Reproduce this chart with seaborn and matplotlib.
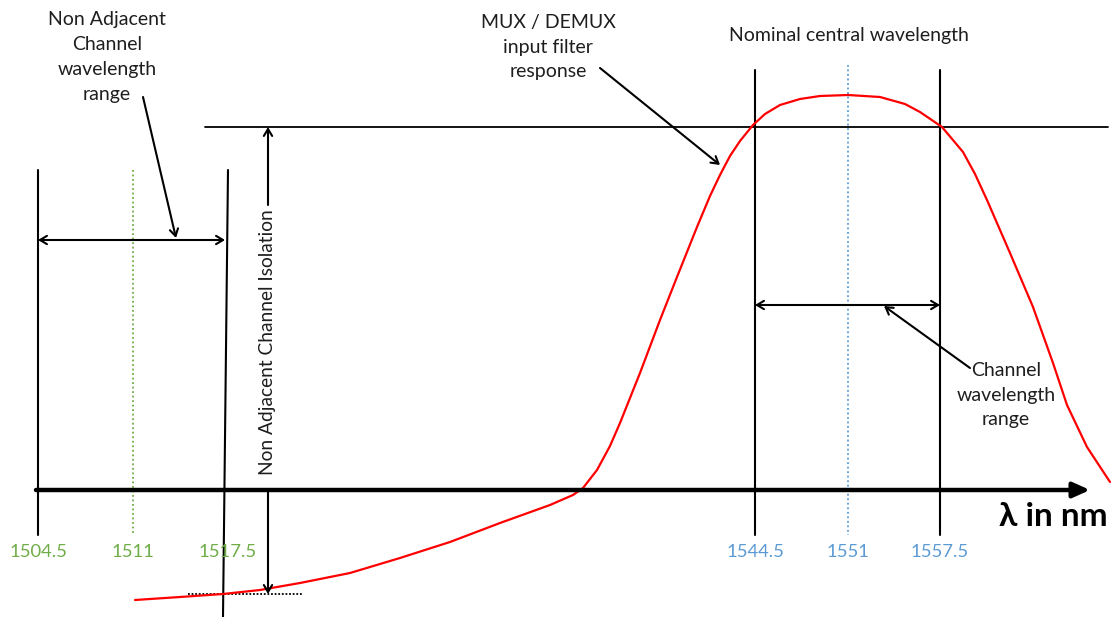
import matplotlib
matplotlib.use("Agg")
import matplotlib.pyplot as plt
import seaborn as sns
import pandas as pd

# ---- data (schematic, positions in pixel units) ----
curve_x = [135, 180, 223, 260, 300, 350, 400, 450, 500, 550, 573, 583, 597, 610, 620,
           630, 640, 660, 677, 697, 710, 720, 730, 740, 753, 765, 780, 800, 820, 848, 880,
           905, 920, 942, 963, 975, 987, 1010, 1033, 1053, 1067, 1087, 1110]
curve_y = [600, 597, 594, 590, 583, 573, 558, 542, 523, 505, 495, 488, 470, 446, 423,
           398, 373, 320, 277, 227, 196, 175, 156, 141, 125, 114, 105, 99, 96, 95, 97,
           104, 112, 127, 152, 174, 200, 253, 307, 363, 405, 447, 482]

non_adj_labels = ["1504.5", "1511", "1517.5"]
chan_labels = ["1544.5", "1551", "1557.5"]
non_adj_x = [38, 133, 225]
chan_x = [755, 848, 940]

GREEN = "#70AD47"
BLUE = "#5B9BD5"
TXT = "#1e1e1e"
FONT = ["Lato", "DejaVu Sans"]

sns.set_style("white")
plt.rcParams["font.family"] = FONT

fig = plt.figure(figsize=(11.13, 6.17), dpi=100)
ax = fig.add_axes([0, 0, 1, 1])
ax.set_xlim(0, 1113)
ax.set_ylim(617, 0)
ax.axis("off")

# red filter response
df = pd.DataFrame({"x": curve_x, "y": curve_y})
sns.lineplot(data=df, x="x", y="y", ax=ax, color="#FF0000", lw=1.6, sort=False, zorder=3)

# main wavelength axis
ax.annotate("", xy=(1090, 490), xytext=(36, 490),
            arrowprops=dict(arrowstyle="-|>,head_length=1.0,head_width=0.45", lw=3.2, color="black",
                            shrinkA=0, shrinkB=0), zorder=4)
ax.text(1108, 517, "λ in nm", ha="right", va="center", fontsize=24, fontweight="bold", color="black")

# top reference line
ax.plot([205, 1108], [127, 127], color="black", lw=1.3, zorder=2)

# vertical lines
ax.plot([non_adj_x[0]] * 2, [170, 535], color="black", lw=1.5)
ax.plot([non_adj_x[1]] * 2, [170, 535], color=GREEN, lw=1.3, ls=(0, (1, 1.5)))
ax.plot([228, 223], [170, 617], color="black", lw=1.5)
ax.plot([chan_x[0]] * 2, [70, 535], color="black", lw=1.5)
ax.plot([chan_x[1]] * 2, [65, 535], color=BLUE, lw=1.3, ls=(0, (1, 1.5)))
ax.plot([chan_x[2]] * 2, [70, 535], color="black", lw=1.5)

# tick labels
for x, lab in zip(non_adj_x, non_adj_labels):
    ax.text(x + (3 if lab == "1517.5" else 0), 552, lab, ha="center", va="center", fontsize=13.3, color=GREEN)
for x, lab in zip(chan_x, chan_labels):
    ax.text(x, 552, lab, ha="center", va="center", fontsize=13.3, color=BLUE)

arrow_kw = dict(arrowstyle="->,head_length=0.5,head_width=0.3", lw=1.5, color="black", shrinkA=0, shrinkB=0)
both_kw = dict(arrowstyle="<->,head_length=0.5,head_width=0.3", lw=1.5, color="black", shrinkA=0, shrinkB=0)

# double arrows
ax.annotate("", xy=(38, 240), xytext=(225, 240), arrowprops=both_kw)
ax.annotate("", xy=(755, 305), xytext=(940, 305), arrowprops=both_kw)

# isolation arrows
ax.annotate("", xy=(268, 127), xytext=(268, 205), arrowprops=arrow_kw)
ax.annotate("", xy=(268, 594), xytext=(268, 490), arrowprops=arrow_kw)
ax.text(268, 342, "Non Adjacent Channel Isolation", rotation=90, ha="center", va="center",
        fontsize=13.8, color=TXT)
ax.plot([188, 303], [594, 594], color="black", lw=1.3, ls=(0, (1, 1)))

# annotations
ax.text(107, 57, "Non Adjacent\nChannel\nwavelength\nrange", ha="center", va="center",
        fontsize=14, color=TXT, linespacing=1.55)
ax.annotate("", xy=(176, 238), xytext=(143, 97), arrowprops=arrow_kw)

ax.text(548, 47, "MUX / DEMUX\ninput filter\nresponse", ha="center", va="center",
        fontsize=14, color=TXT, linespacing=1.55)
ax.annotate("", xy=(720, 165), xytext=(600, 68), arrowprops=arrow_kw)

ax.text(849, 36, "Nominal central wavelength", ha="center", va="center", fontsize=14, color=TXT)

ax.text(1006, 395, "Channel\nwavelength\nrange", ha="center", va="center",
        fontsize=14, color=TXT, linespacing=1.55)
ax.annotate("", xy=(884, 306), xytext=(970, 368), arrowprops=arrow_kw)

fig.savefig("out.png", dpi=100)
